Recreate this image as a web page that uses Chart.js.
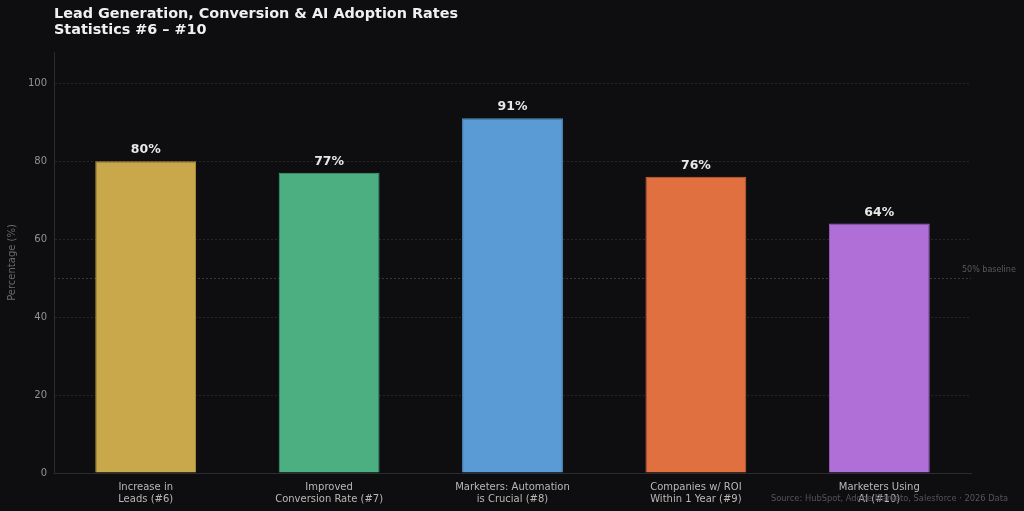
<!DOCTYPE html>
<html>
<head>
<meta charset="utf-8">
<script src="https://cdn.jsdelivr.net/npm/chart.js@4"></script>
<style>
  html, body { margin: 0; padding: 0; background: #0e0e10; }
  #wrap { width: 1024px; height: 511px; position: relative; }
</style>
</head>
<body>
<div id="wrap"><canvas id="chart"></canvas></div>
<script>
const categories = [
    ['Increase in', 'Leads (#6)'],
    ['Improved', 'Conversion Rate (#7)'],
    ['Marketers: Automation', 'is Crucial (#8)'],
    ['Companies w/ ROI', 'Within 1 Year (#9)'],
    ['Marketers Using', 'AI (#10)']
];
const values = [80, 77, 91, 76, 64];
const barColors = ['#c9a84c', '#4caf82', '#5b9bd5', '#e07040', '#b06fd6'];
const edgeColors = ['#b39540', '#44a076', '#5190c8', '#c96538', '#9e62c2'];
const yTicks = [0, 20, 40, 60, 80, 100];
const titleLines = ['Lead Generation, Conversion & AI Adoption Rates', 'Statistics #6 \u2013 #10'];
const sourceText = 'Source: HubSpot, Adobe Marketo, Salesforce \u00b7 2026 Data';
const baselineValue = 50;

const FONT = '"DejaVu Sans", sans-serif';

const overlay = {
    id: 'overlay',
    beforeDatasetsDraw(chart) {
        const { ctx, chartArea, scales } = chart;
        const y = scales.y.getPixelForValue(baselineValue);
        ctx.save();
        ctx.strokeStyle = '#38383c';
        ctx.lineWidth = 1;
        ctx.setLineDash([2, 2]);
        ctx.beginPath();
        ctx.moveTo(chartArea.left, Math.round(y) + 0.5);
        ctx.lineTo(chartArea.right, Math.round(y) + 0.5);
        ctx.stroke();
        ctx.restore();
    },
    afterDatasetsDraw(chart) {
        const { ctx, chartArea, scales } = chart;
        const meta = chart.getDatasetMeta(0);
        ctx.save();
        // value labels
        ctx.font = 'bold 12.5px ' + FONT;
        ctx.fillStyle = '#e8e8e8';
        ctx.textAlign = 'center';
        ctx.textBaseline = 'bottom';
        meta.data.forEach((bar, i) => {
            ctx.fillText(values[i] + '%', bar.x, bar.y - 5);
        });
        // baseline note
        ctx.font = '8px ' + FONT;
        ctx.fillStyle = '#5a5a5e';
        ctx.textAlign = 'left';
        ctx.textBaseline = 'middle';
        ctx.fillText('50% baseline', chartArea.right - 9, scales.y.getPixelForValue(baselineValue) - 8);
        // title
        ctx.font = 'bold 14.4px ' + FONT;
        ctx.fillStyle = '#f0f0f0';
        ctx.textBaseline = 'top';
        ctx.fillText(titleLines[0], chartArea.left, 7);
        ctx.fillText(titleLines[1], chartArea.left, 23);
        // source
        ctx.font = '8.3px ' + FONT;
        ctx.fillStyle = '#555558';
        ctx.textAlign = 'right';
        ctx.textBaseline = 'middle';
        ctx.fillText(sourceText, 1008, 499);
        ctx.restore();
    }
};

new Chart(document.getElementById('chart'), {
    type: 'bar',
    data: {
        labels: categories,
        datasets: [{
            data: values,
            backgroundColor: barColors,
            borderColor: edgeColors,
            borderWidth: 1,
            categoryPercentage: 1,
            barPercentage: 0.55
        }]
    },
    options: {
        responsive: true,
        maintainAspectRatio: false,
        animation: false,
        layout: { padding: { top: 52, right: 53, left: 0, bottom: 0 } },
        plugins: { legend: { display: false }, tooltip: { enabled: false } },
        scales: {
            x: {
                afterFit: s => { s.height = 38; },
                grid: { display: false },
                border: { display: true, color: '#2c2c30', width: 1 },
                ticks: { color: '#b8b8b8', font: { family: FONT, size: 10, lineHeight: 1.2 }, padding: 0, maxRotation: 0 }
            },
            y: {
                min: 0,
                max: 108,
                afterFit: s => { s.width = 54; },
                afterBuildTicks: s => { s.ticks = yTicks.map(v => ({ value: v })); },
                grid: { color: '#26262b', lineWidth: 1, drawTicks: false },
                border: { display: true, color: '#2c2c30', width: 1, dash: [2, 2] },
                ticks: { color: '#929296', font: { family: FONT, size: 10 }, padding: 7 },
                title: { display: true, text: 'Percentage (%)', color: '#6a6a6e', font: { family: FONT, size: 10 }, padding: { top: 6, bottom: 0 } }
            }
        }
    },
    plugins: [overlay]
});
</script>
</body>
</html>
